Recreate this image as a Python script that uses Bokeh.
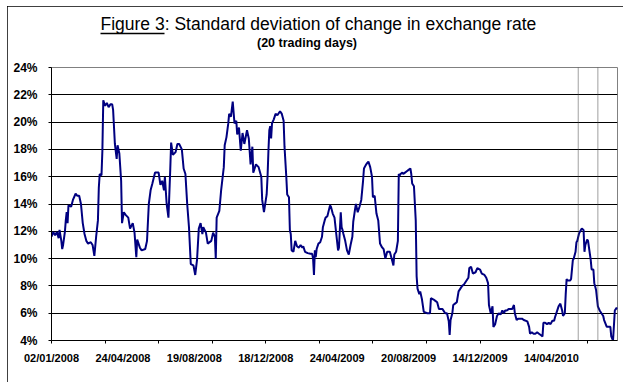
from bokeh.plotting import figure
from bokeh.models import Range1d, FixedTicker, Span, Title, LinearAxis
from bokeh.embed import file_html
from bokeh.resources import INLINE

# trading-day index (from 02/01/2008) and 20-day standard deviation (%)
day = [0, 2, 4, 6, 8, 9, 11, 12, 13, 15, 16, 17, 18, 19, 22, 24, 27, 29, 31, 33,
       35, 37, 39, 41, 44, 46, 48, 50, 52, 53, 54, 56, 57, 58, 60, 62, 64, 66, 68, 69,
       71, 73, 74, 76, 78, 79, 81, 83, 86, 88, 91, 93, 95, 96, 99, 101, 105, 107, 109, 111,
       113, 116, 120, 122, 124, 126, 127, 129, 131, 133, 134, 136, 139, 141, 143, 146, 148, 150, 152, 154,
       156, 159, 161, 163, 165, 167, 169, 170, 173, 175, 179, 181, 183, 184, 185, 188, 190, 193, 194, 196,
       198, 199, 201, 203, 205, 207, 208, 210, 212, 214, 216, 219, 221, 223, 225, 226, 229, 232, 235, 236,
       238, 241, 242, 243, 244, 245, 246, 247, 249, 251, 253, 256, 258, 260, 261, 263, 264, 266, 267, 268,
       269, 271, 273, 275, 277, 279, 281, 282, 284, 287, 290, 292, 293, 294, 295, 296, 297, 299, 301, 303,
       304, 306, 307, 309, 312, 313, 315, 317, 319, 321, 322, 324, 325, 326, 327, 329, 331, 333, 335, 337,
       338, 340, 341, 343, 345, 347, 349, 350, 352, 353, 355, 357, 359, 360, 362, 364, 366, 368, 370, 372,
       374, 376, 379, 381, 383, 384, 386, 388, 389, 390, 391, 393, 394, 396, 398, 400, 402, 403, 404, 406,
       408, 409, 410, 412, 413, 415, 417, 421, 424, 425, 428, 430, 432, 434, 438, 441, 443, 445, 446, 447,
       449, 450, 452, 454, 456, 458, 460, 462, 464, 466, 467, 468, 470, 472, 475, 477, 480, 482, 485, 487,
       489, 490, 492, 494, 495, 497, 499, 501, 503, 505, 507, 508, 510, 512, 514, 516, 518, 519, 521, 523,
       527, 529, 533, 535, 536, 538, 540, 542, 544, 546, 548, 550, 551, 553, 555, 557, 559, 561, 563, 564,
       566, 568, 570, 572, 573, 575, 576, 577, 578, 581, 582, 584, 585, 587, 588, 589, 591, 593, 594, 596,
       597, 598, 600, 601, 604, 605, 607, 608, 609, 610, 612, 614, 616, 618, 619, 622, 624, 626, 627, 629,
       630, 631, 633, 634]
vol = [11.6, 11.95, 11.7, 11.95, 11.5, 12.1, 11.3, 10.7, 11.0, 11.95, 12.8, 13.4, 12.6, 13.9, 13.8, 14.3, 14.75, 14.6, 14.6, 14.0,
       12.6, 11.8, 11.3, 11.1, 11.2, 11.0, 10.2, 11.6, 12.8, 15.2, 16.2, 16.1, 17.9, 21.6, 21.2, 21.4, 21.1, 21.3, 21.3, 20.9,
       18.4, 17.3, 18.3, 17.7, 15.7, 12.6, 13.4, 13.2, 13.0, 12.2, 12.6, 11.9, 10.1, 11.4, 10.8, 10.6, 10.7, 11.3, 14.0, 15.0,
       15.5, 16.3, 16.3, 15.4, 15.7, 15.0, 16.0, 14.0, 13.0, 16.5, 18.5, 17.6, 17.8, 18.4, 18.4, 18.0, 16.6, 16.2, 14.0, 12.3,
       9.6, 9.5, 8.8, 9.9, 12.2, 12.6, 11.8, 12.3, 11.9, 11.1, 11.3, 11.9, 11.6, 10.0, 13.0, 13.5, 15.0, 16.7, 18.3, 18.9,
       19.9, 20.6, 20.4, 21.5, 19.9, 20.1, 19.1, 19.6, 17.9, 19.2, 18.4, 19.4, 18.8, 16.9, 18.2, 16.3, 16.9, 16.7, 16.0, 14.3,
       13.4, 14.7, 16.0, 17.9, 19.4, 19.7, 18.8, 19.9, 20.2, 20.6, 20.5, 20.8, 20.6, 20.1, 18.2, 16.0, 14.7, 14.5, 12.1, 11.8,
       10.6, 10.5, 11.3, 10.9, 10.8, 11.0, 10.8, 10.9, 10.5, 10.4, 10.35, 10.35, 10.0, 8.8, 10.6, 10.1, 10.7, 11.1, 11.2, 11.6,
       12.3, 12.8, 13.0, 13.1, 13.9, 13.8, 13.3, 13.0, 11.8, 10.6, 10.8, 13.4, 12.3, 12.1, 11.8, 11.3, 10.6, 10.3, 11.0, 11.6,
       12.7, 13.6, 14.0, 13.4, 13.8, 14.3, 15.7, 16.6, 16.85, 16.95, 17.1, 16.7, 16.0, 14.5, 14.6, 13.3, 12.8, 11.1, 10.85, 10.7,
       10.0, 10.5, 10.5, 10.0, 9.5, 10.3, 10.5, 11.3, 16.2, 16.1, 16.2, 16.3, 16.2, 16.3, 16.4, 16.5, 16.6, 16.2, 15.5, 15.3,
       12.8, 8.7, 7.8, 7.4, 7.6, 7.0, 6.1, 6.0, 6.0, 7.1, 7.0, 6.9, 6.8, 6.3, 6.3, 6.0, 6.0, 5.4, 4.4, 5.5,
       6.0, 6.6, 6.7, 6.8, 7.6, 7.8, 8.0, 8.1, 8.3, 8.5, 8.6, 9.3, 9.4, 8.9, 9.0, 9.3, 9.2, 8.9, 8.8, 8.6,
       8.2, 6.6, 6.0, 6.5, 5.0, 5.2, 5.8, 6.0, 5.9, 6.2, 6.0, 6.2, 6.2, 6.3, 6.3, 6.3, 6.6, 6.0, 5.5, 5.6,
       5.6, 5.5, 5.4, 5.0, 4.5, 4.6, 4.5, 4.5, 4.6, 4.5, 4.4, 4.3, 5.3, 5.3, 5.2, 5.3, 5.2, 5.45, 5.45, 5.7,
       6.1, 6.5, 6.7, 6.2, 5.8, 6.0, 7.4, 8.5, 8.4, 8.4, 8.5, 9.9, 10.0, 10.5, 11.2, 11.3, 11.85, 12.1, 12.2, 12.1,
       10.5, 11.0, 11.4, 11.3, 9.9, 9.2, 9.2, 8.2, 7.95, 7.7, 6.5, 6.2, 6.0, 5.8, 5.5, 5.0, 5.0, 5.0, 4.3, 4.0,
       5.1, 6.2, 6.4, 6.3]

label_days = [0, 80, 160, 240, 320, 400, 480, 560]
label_dates = ["02/01/2008", "24/04/2008", "19/08/2008", "18/12/2008",
               "24/04/2009", "20/08/2009", "14/12/2009", "14/04/2010"]
tick_days = [0, 60, 120, 180, 240, 300, 360, 420, 480, 540, 600]
y_ticks = [4, 6, 8, 10, 12, 14, 16, 18, 20, 22, 24]
y_tick_labels = ["4%", "6%", "8%", "10%", "12%", "14%", "16%", "18%", "20%", "22%", "24%"]
event_days = [590, 612]
last_day = 634

title_lead = "Figure 3"
title_rest = ": Standard deviation of change in exchange rate"
title_sub = "(20 trading days)"

FONT = "Liberation Sans"

# ---- layout (canvas pixels; canvas is offset 7,6 on the page) ----
W, H = 616, 376
FL, FT, FW, FH = 44, 61, 566, 273

p = figure(width=W, height=H, output_backend="svg", toolbar_location=None,
           x_range=Range1d(0, last_day), y_range=Range1d(y_ticks[0], y_ticks[-1]),
           min_border_left=FL, min_border_right=W - FL - FW,
           min_border_top=FT, min_border_bottom=H - FT - FH,
           title=None, margin=(6, 0, 0, 7),
           styles={"outline": "1px solid black", "outline-offset": "-1px"})
p.background_fill_color = "white"
p.border_fill_color = "white"
p.outline_line_color = "#808080"
p.outline_line_width = 1

p.line(day, vol, line_color="#000080", line_width=2)

# x axis
xa = p.xaxis[0]
xa.ticker = FixedTicker(ticks=label_days, minor_ticks=tick_days)
xa.major_label_overrides = {d: s for d, s in zip(label_days, label_dates)}
xa.major_tick_out = 0
xa.major_tick_in = 0
xa.minor_tick_out = 3
xa.minor_tick_in = 0
xa.minor_tick_line_color = "black"
xa.axis_line_color = "black"
xa.major_label_standoff = 8
xa.major_label_text_font = FONT
xa.major_label_text_font_style = "bold"
xa.major_label_text_font_size = "11px"
xa.major_label_text_color = "black"

# y axis
ya = p.yaxis[0]
ya.ticker = FixedTicker(ticks=y_ticks, minor_ticks=[])
ya.major_label_overrides = {t: s for t, s in zip(y_ticks, y_tick_labels)}
ya.major_tick_out = 3
ya.major_tick_in = 0
ya.minor_tick_out = 0
ya.minor_tick_in = 0
ya.axis_line_color = "black"
ya.major_tick_line_color = "black"
ya.major_label_standoff = 11
ya.major_label_text_font = FONT
ya.major_label_text_font_style = "bold"
ya.major_label_text_font_size = "12px"
ya.major_label_text_color = "black"

p.xgrid.visible = False
p.ygrid.ticker = FixedTicker(ticks=y_ticks[1:-1], minor_ticks=[])
p.ygrid.grid_line_color = "black"
p.ygrid.grid_line_width = 1

for d in event_days:
    p.add_layout(Span(location=d, dimension="height", line_color="#404040",
                      line_width=1, line_dash="1 1"))

# ---- titles in the "above" panel (stacked outward from the frame) ----
p.extra_x_ranges = {"px": Range1d(0, FW)}

# invisible spacer between the frame and the subtitle
spacer = LinearAxis(x_range_name="px", ticker=FixedTicker(ticks=[0], minor_ticks=[]),
                    major_tick_out=18, major_tick_in=0, minor_tick_out=0, minor_tick_in=0,
                    axis_line_alpha=0, major_tick_line_alpha=0, minor_tick_line_alpha=0,
                    major_label_overrides={0: ""}, major_label_standoff=0,
                    major_label_text_font_size="0px")
p.add_layout(spacer, "above")

sub_size = 12.5
sub_left = 256.5 - 51          # offset from the frame's left edge
p.add_layout(Title(text=title_sub, align="left", offset=sub_left, standoff=0,
                   text_font=FONT, text_font_size=f"{sub_size}px", text_font_style="bold",
                   text_color="black"), "above")

title_size = 17.5
title_left = 100.0 - 51        # offset from the frame's left edge
lead_w = 3.668 * title_size

underline = LinearAxis(x_range_name="px", ticker=FixedTicker(ticks=[], minor_ticks=[]),
                       major_tick_out=0, major_tick_in=0, minor_tick_out=0, minor_tick_in=0,
                       axis_line_color="black", axis_line_width=1.3,
                       major_label_standoff=0, bounds=(title_left, title_left + lead_w))
p.add_layout(underline, "above")

p.add_layout(Title(text=title_lead + title_rest, align="left", offset=title_left, standoff=0,
                   text_font=FONT, text_font_size=f"{title_size}px", text_font_style="normal",
                   text_color="black"), "above")

open("out.html", "w").write(file_html(p, INLINE))
